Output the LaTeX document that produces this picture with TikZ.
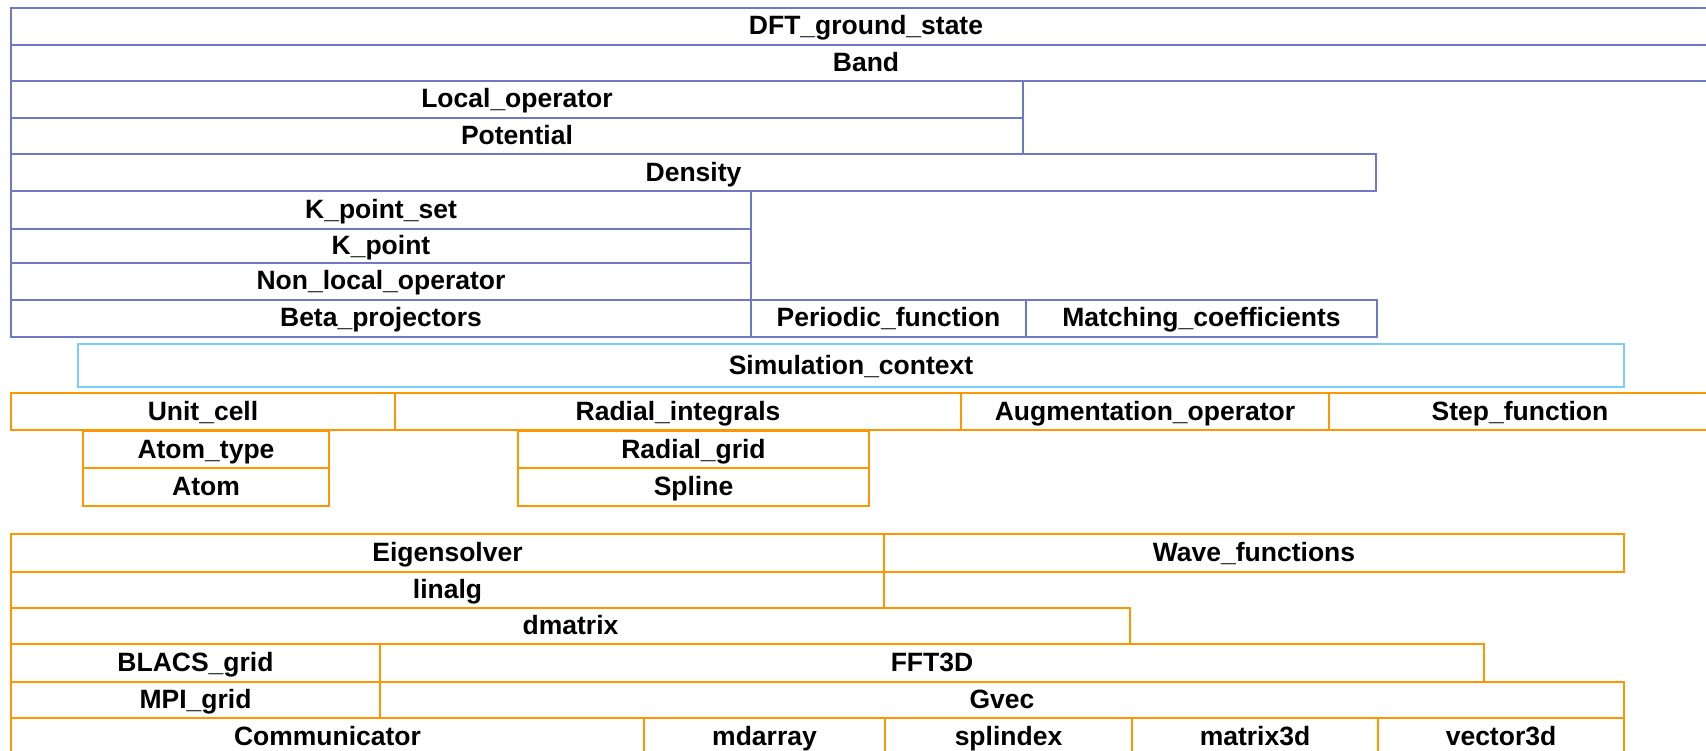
\documentclass[tikz,border=0pt]{standalone}
\usepackage{fontspec}
\setmainfont{Liberation Sans}
\definecolor{bluebox}{RGB}{110,120,195}
\definecolor{skybox}{RGB}{125,205,250}
\definecolor{orangebox}{RGB}{255,150,0}
\tikzset{
  cell/.style={draw, line width=2pt, inner sep=0pt, outer sep=0pt,
    text height=19pt, text depth=2pt,
    font=\fontsize{26.5}{30}\selectfont\bfseries, text=black},
  bluecell/.style={cell, draw=bluebox},
  skycell/.style={cell, draw=skybox},
  orangecell/.style={cell, draw=orangebox},
}
\newcommand\bx[7]{%
  \pgfmathsetmacro\bxw{#4-#2}\pgfmathsetmacro\bxh{#5-#3}%
  \pgfmathsetmacro\bxcx{(#2+#4)/2}\pgfmathsetmacro\bxcy{(#3+#5)/2}%
  \node[#7, minimum width=\bxw pt, minimum height=\bxh pt] (#1) at (\bxcx,\bxcy) {#6};}
\begin{document}
\begin{tikzpicture}[x=1pt,y=-1pt]
\clip (0,0) rectangle (1706,751);
\fill[white] (0,0) rectangle (1706,751);
% blue group
\bx{dft}{11}{8}{1721}{45}{DFT\_ground\_state}{bluecell}
\bx{band}{11}{45}{1721}{81}{Band}{bluecell}
\bx{localop}{11}{81}{1023}{118}{Local\_operator}{bluecell}
\bx{potential}{11}{118}{1023}{154.5}{Potential}{bluecell}
\bx{density}{11}{154.5}{1376}{191.5}{Density}{bluecell}
\bx{kpset}{11}{191.5}{751}{229}{K\_point\_set}{bluecell}
\bx{kpoint}{11}{229}{751}{263}{K\_point}{bluecell}
\bx{nonlocal}{11}{263}{751}{300}{Non\_local\_operator}{bluecell}
\bx{beta}{11}{300}{751}{337}{Beta\_projectors}{bluecell}
\bx{periodic}{751}{300}{1026}{337}{Periodic\_function}{bluecell}
\bx{matching}{1026}{300}{1377}{337}{Matching\_coefficients}{bluecell}
% simulation context
\bx{simctx}{78}{344}{1624}{387}{Simulation\_context}{skycell}
% orange middle group
\bx{unitcell}{11}{393}{395}{430}{Unit\_cell}{orangecell}
\bx{radint}{395}{393}{961}{430}{Radial\_integrals}{orangecell}
\bx{augop}{961}{393}{1329}{430}{Augmentation\_operator}{orangecell}
\bx{stepfn}{1329}{393}{1711}{430}{Step\_function}{orangecell}
\bx{atomtype}{83}{431}{329}{468}{Atom\_type}{orangecell}
\bx{atom}{83}{468}{329}{506}{Atom}{orangecell}
\bx{radgrid}{518}{431}{869}{468}{Radial\_grid}{orangecell}
\bx{spline}{518}{468}{869}{506}{Spline}{orangecell}
% orange bottom group
\bx{eigen}{11}{534}{884}{572}{Eigensolver}{orangecell}
\bx{wavefn}{884}{534}{1624}{572}{Wave\_functions}{orangecell}
\bx{linalg}{11}{572}{884}{608}{linalg}{orangecell}
\bx{dmatrix}{11}{608}{1130}{644}{dmatrix}{orangecell}
\bx{blacs}{11}{644}{380}{682}{BLACS\_grid}{orangecell}
\bx{fft}{380}{644}{1484}{682}{FFT3D}{orangecell}
\bx{mpigrid}{11}{682}{380}{718}{MPI\_grid}{orangecell}
\bx{gvec}{380}{682}{1624}{718}{Gvec}{orangecell}
\bx{comm}{11}{718}{644}{756}{Communicator}{orangecell}
\bx{mdarray}{644}{718}{885}{756}{mdarray}{orangecell}
\bx{splindex}{885}{718}{1132}{756}{splindex}{orangecell}
\bx{matrixthreed}{1132}{718}{1378}{756}{matrix3d}{orangecell}
\bx{vectorthreed}{1378}{718}{1624}{756}{vector3d}{orangecell}
\end{tikzpicture}
\end{document}
